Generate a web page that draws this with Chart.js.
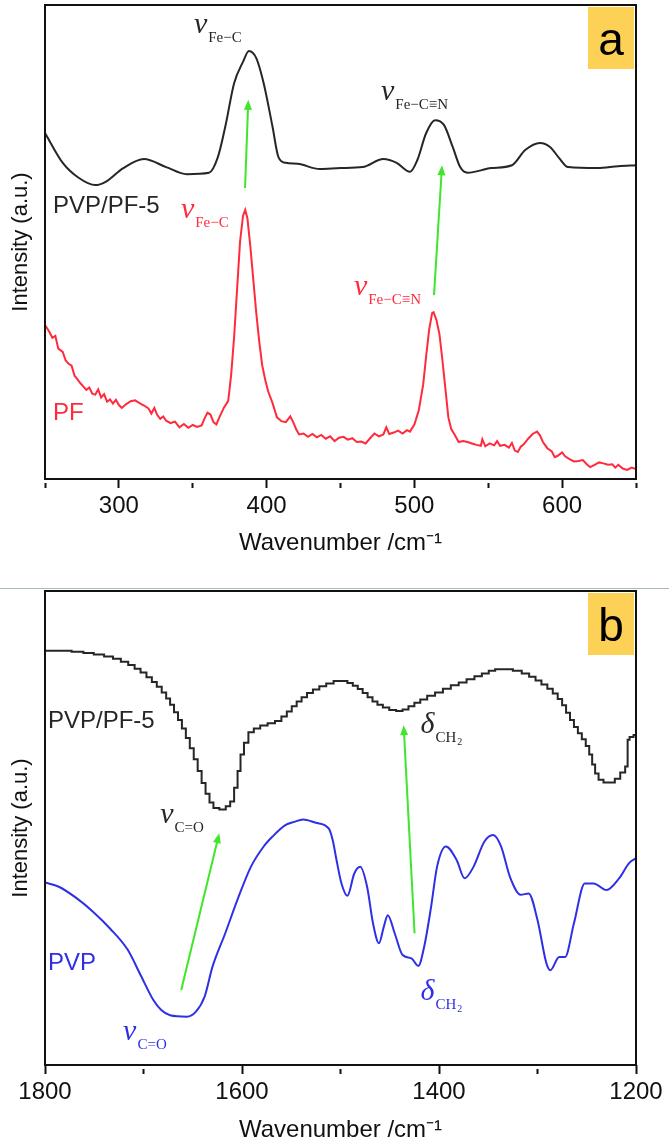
<!DOCTYPE html>
<html>
<head>
<meta charset="utf-8">
<script src="https://cdn.jsdelivr.net/npm/chart.js@4"></script>
<style>
  body { margin: 0; background: #fff; }
  #wrap { position: relative; width: 669px; height: 1142px; }
  canvas { position: absolute; left: 0; }
  #chartA { top: 0; }
  #chartB { top: 586px; }
  #sep { position: absolute; left: 0; top: 588px; width: 669px; height: 1px; background: #a8b8be; }
</style>
</head>
<body>
<div id="wrap">
  <canvas id="chartA" width="669" height="585"></canvas>
  <div id="sep"></div>
  <canvas id="chartB" width="669" height="556"></canvas>
</div>
<script>
// panel a: Raman
const pvpPfWaveA = [250, 262, 273, 284, 291, 303, 317, 332, 346, 361, 367, 372, 378, 384, 388, 393, 398, 404, 408, 413, 421, 436, 450, 465, 479, 488, 497, 502, 508, 514, 520, 526, 531, 536, 552, 566, 575, 585, 592, 598, 604, 624, 638, 650];
const pvpPfIntA = [73.0, 66.7, 63.5, 62.0, 62.7, 65.6, 67.5, 65.8, 64.3, 64.6, 67.9, 74.3, 83.5, 88.0, 90.3, 88.8, 83.5, 74.3, 67.9, 66.7, 66.5, 65.4, 65.6, 65.8, 67.5, 66.7, 64.8, 67.3, 73.0, 75.7, 74.7, 70.0, 65.8, 64.6, 65.6, 66.2, 69.4, 70.9, 70.0, 67.7, 65.8, 65.6, 66.0, 66.2];

const pfWave = [250, 253, 255, 257, 259, 262, 264, 266, 268, 270, 272, 274, 276, 278, 280, 282, 284, 286, 288, 290,
  292, 294, 296, 298, 300, 302, 305, 308, 311, 314, 317, 320, 322, 324, 326, 328, 330, 332, 335, 338,
  341, 344, 347, 350, 353, 356, 358, 360, 362, 364, 366, 368, 371, 374, 376, 378, 380, 382, 384, 385.5,
  387, 389, 391, 393, 395, 397, 399, 401, 404, 407, 410, 413, 416, 418, 420, 422, 425, 428, 431, 434,
  437, 440, 443, 446, 449, 452, 455, 458, 461, 464, 467, 470, 473, 476, 479, 481, 483, 486, 489, 492,
  495, 497, 500, 503, 506, 508, 510, 512, 513, 515, 517, 519, 521, 523, 525, 527, 530, 533, 536, 539,
  542, 545, 546, 548, 551, 554, 556, 558, 561, 564, 566, 568, 570, 572, 574, 577, 580, 583, 585, 587,
  590, 593, 595, 597, 600, 602, 605, 608, 611, 614, 617, 619, 622, 625, 628, 631, 634, 636, 638, 641,
  644, 647, 650];
const pfInt = [32.5, 31.0, 29.8, 30.2, 27.5, 26.8, 25.0, 24.3, 23.9, 21.8, 21.0, 20.2, 19.5, 18.8, 19.3, 18.0, 17.8, 18.9, 17.2, 17.9,
  16.3, 16.8, 15.9, 16.7, 15.6, 15.0, 15.8, 16.4, 16.6, 16.0, 15.5, 14.9, 13.8, 15.0, 13.5, 12.7, 13.2, 12.3, 11.8, 12.1,
  10.9, 11.6, 10.8, 11.4, 11.0, 11.3, 12.8, 14.0, 13.6, 12.0, 11.5, 13.0, 15.0, 16.5, 22.0, 30.0, 40.0, 50.0, 55.5, 56.8,
  55.0, 49.0, 42.0, 35.0, 29.0, 24.0, 21.0, 18.5, 16.0, 13.0, 12.2, 12.0, 13.2, 12.0, 10.5, 9.4, 9.6, 8.9, 9.5, 8.8,
  9.3, 8.5, 9.0, 8.0, 8.7, 8.9, 8.3, 8.6, 7.8, 7.9, 7.5, 8.6, 9.6, 9.0, 9.4, 10.9, 9.5, 9.8, 10.2, 9.6,
  10.3, 10.0, 11.5, 14.5, 20.0, 26.0, 31.5, 35.0, 35.2, 33.5, 30.5, 25.0, 19.0, 13.0, 10.5, 9.5, 7.8, 8.0, 7.8, 7.5,
  7.2, 7.0, 8.4, 6.9, 7.5, 7.1, 8.0, 7.0, 7.2, 6.6, 7.6, 6.0, 5.7, 6.8, 7.3, 8.5, 9.5, 10.0, 9.2, 7.8,
  6.5, 5.8, 4.6, 4.9, 5.6, 4.8, 4.2, 3.7, 3.8, 4.0, 3.0, 2.5, 3.0, 3.5, 3.3, 3.0, 3.1, 2.4, 3.0, 2.2,
  1.9, 2.4, 2.1];

// panel b: FTIR (the PVP/PF-5 trace is a staircase in the original)
const pvpPfWaveB = [1800, 1780, 1766, 1756, 1745, 1735, 1727, 1719, 1712, 1706, 1700, 1694, 1689, 1684, 1679, 1675, 1671, 1667, 1663, 1659,
  1655, 1651, 1647, 1643, 1639, 1635, 1631, 1627, 1619, 1614, 1610, 1606, 1603, 1600, 1596, 1591, 1585, 1578, 1570, 1563,
  1557, 1552, 1547, 1542, 1537, 1531, 1525, 1518, 1511, 1503, 1496, 1490, 1485, 1480, 1475, 1470, 1465, 1460, 1454, 1447,
  1440, 1434, 1428, 1422, 1416, 1408, 1400, 1392, 1384, 1376, 1368, 1360, 1353, 1346, 1340, 1330, 1320, 1312, 1305, 1299,
  1293, 1287, 1282, 1277, 1273, 1269, 1265, 1261, 1257, 1253, 1249, 1246, 1243, 1240, 1236, 1230, 1224, 1219, 1213, 1209,
  1208, 1205, 1200];
const pvpPfIntB = [87.4, 87.4, 87.2, 86.9, 86.6, 86.2, 85.7, 85.1, 84.4, 83.6, 82.8, 81.8, 80.8, 79.8, 78.6, 77.3, 76.0, 74.4, 72.8, 71.0,
  69.0, 66.8, 64.5, 62.0, 59.5, 57.2, 55.4, 54.2, 53.9, 54.6, 55.6, 58.5, 62.0, 65.5, 68.0, 70.2, 71.0, 71.6, 72.1, 72.6,
  73.5, 74.6, 75.7, 76.7, 77.6, 78.5, 79.2, 79.9, 80.5, 81.0, 81.0, 80.6, 80.0, 79.3, 78.5, 77.6, 76.7, 76.0, 75.4, 74.9,
  74.7, 75.0, 75.7, 76.4, 77.1, 77.9, 78.6, 79.4, 80.1, 80.7, 81.4, 82.0, 82.6, 83.2, 83.5, 83.5, 83.2, 82.6, 81.9, 81.1,
  80.3, 79.4, 78.4, 77.2, 75.9, 74.3, 72.8, 71.3, 70.0, 68.7, 67.3, 65.5, 63.4, 61.5, 60.2, 59.6, 59.6, 60.4, 61.7, 63.0,
  68.6, 69.2, 69.6];

const pvpWave = [1800, 1786, 1768, 1751, 1734, 1716, 1703, 1690, 1682, 1673, 1656, 1647, 1638, 1630, 1617, 1604, 1591, 1578, 1569, 1556, 1547, 1538, 1525, 1512, 1508, 1504, 1499, 1493, 1486, 1480, 1473, 1467, 1461, 1456, 1452, 1445, 1437, 1428, 1421, 1415, 1408, 1402, 1393, 1382, 1374, 1365, 1354, 1345, 1337, 1328, 1317, 1309, 1300, 1291, 1287, 1278, 1272, 1263, 1252, 1243, 1230, 1217, 1207, 1200];
const pvpInt = [38.5, 37.6, 35.2, 32.3, 28.8, 24.3, 19.0, 13.7, 11.6, 10.5, 10.2, 11.2, 14.4, 20.7, 27.8, 35.2, 41.8, 46.1, 48.2, 50.6, 51.3, 51.8, 51.1, 49.9, 47.5, 43.2, 38.3, 35.7, 40.4, 41.8, 37.6, 29.9, 25.7, 29.2, 31.6, 27.8, 23.2, 22.5, 20.9, 25.0, 33.4, 41.8, 46.1, 43.2, 39.4, 41.8, 47.1, 48.5, 46.1, 39.7, 35.9, 36.2, 30.6, 21.5, 20.0, 22.8, 22.8, 29.9, 38.3, 38.3, 36.9, 39.4, 42.6, 43.6];

const BLACK = '#262626';
const RED = '#ff2b3d';
const BLUE = '#2f2fe6';
const GREEN = '#3fe62a';

// annotations in data units
const labelsA = [
  { x: 255.4, y: 56.1, text: 'PVP/PF-5', color: BLACK },
  { x: 255.4, y: 12.4, text: 'PF', color: RED },
  { x: 350.8, y: 94.1, sym: 'ν', sub: 'Fe−C', color: BLACK },
  { x: 477.4, y: 80.0, sym: 'ν', sub: 'Fe−C≡N', color: BLACK },
  { x: 342.0, y: 55.1, sym: 'ν', sub: 'Fe−C', color: RED },
  { x: 459.1, y: 38.8, sym: 'ν', sub: 'Fe−C≡N', color: RED }
];
const arrowsA = [
  { x1: 385.4, y1: 61.4, x2: 387.6, y2: 80.0 },
  { x1: 513.3, y1: 38.8, x2: 518.7, y2: 66.2 }
];
const labelsB = [
  { x: 1797, y: 71.1, text: 'PVP/PF-5', color: BLACK },
  { x: 1797, y: 20.0, text: 'PVP', color: BLUE },
  { x: 1683.1, y: 51.1, sym: 'ν', sub: 'C=O', color: BLACK },
  { x: 1418.7, y: 70.0, sym: 'δ', sub: 'CH', sub2: '2', color: BLACK },
  { x: 1720.7, y: 5.3, sym: 'ν', sub: 'C=O', color: BLUE },
  { x: 1418.7, y: 13.7, sym: 'δ', sub: 'CH', sub2: '2', color: BLUE }
];
const arrowsB = [
  { x1: 1661.7, y1: 15.8, x2: 1623.1, y2: 48.9 },
  { x1: 1424.8, y1: 27.8, x2: 1435.9, y2: 71.7 }
];

const annotate = {
  id: 'annotate',
  afterDatasetsDraw(chart, args, opts) {
    const { ctx, chartArea: ca, scales: { x, y } } = chart;
    ctx.save();
    ctx.strokeStyle = '#111';
    ctx.lineWidth = 2;
    ctx.strokeRect(ca.left, ca.top, ca.right - ca.left, ca.bottom - ca.top);

    // panel tag
    ctx.fillStyle = '#fdd155';
    ctx.fillRect(ca.right - 48, ca.top + 2, 46, 62);
    ctx.fillStyle = '#000';
    ctx.font = '46px "Liberation Sans"';
    ctx.textAlign = 'center';
    ctx.textBaseline = 'alphabetic';
    ctx.fillText(opts.tag, ca.right - 25, ca.top + 50);
    ctx.textAlign = 'left';

    opts.arrows.forEach(a => {
      const x1 = x.getPixelForValue(a.x1), y1 = y.getPixelForValue(a.y1);
      const x2 = x.getPixelForValue(a.x2), y2 = y.getPixelForValue(a.y2);
      const ang = Math.atan2(y2 - y1, x2 - x1);
      ctx.strokeStyle = GREEN;
      ctx.fillStyle = GREEN;
      ctx.lineWidth = 2;
      ctx.beginPath();
      ctx.moveTo(x1, y1);
      ctx.lineTo(x2 - 6 * Math.cos(ang), y2 - 6 * Math.sin(ang));
      ctx.stroke();
      ctx.beginPath();
      ctx.moveTo(x2, y2);
      ctx.lineTo(x2 - 10 * Math.cos(ang) + 4 * Math.sin(ang), y2 - 10 * Math.sin(ang) - 4 * Math.cos(ang));
      ctx.lineTo(x2 - 10 * Math.cos(ang) - 4 * Math.sin(ang), y2 - 10 * Math.sin(ang) + 4 * Math.cos(ang));
      ctx.closePath();
      ctx.fill();
    });

    opts.labels.forEach(l => {
      const px = x.getPixelForValue(l.x), py = y.getPixelForValue(l.y);
      ctx.fillStyle = l.color;
      if (l.text) {
        ctx.font = '24px "Liberation Sans"';
        ctx.fillText(l.text, px, py);
        return;
      }
      ctx.font = 'italic 30px "Liberation Serif"';
      ctx.fillText(l.sym, px, py);
      const w = ctx.measureText(l.sym).width;
      ctx.font = '15px "Liberation Serif"';
      ctx.fillText(l.sub, px + w + 1, py + 9);
      if (l.sub2) {
        const w2 = ctx.measureText(l.sub).width;
        ctx.font = '10px "Liberation Serif"';
        ctx.fillText(l.sub2, px + w + 1 + w2 + 1, py + 12);
      }
    });
    ctx.restore();
  }
};

function pts(xs, ys) {
  return xs.map((v, i) => ({ x: v, y: ys[i] }));
}

function makeOptions(xMin, xMax, reverse, labelEvery, axisHeight, tag, labels, arrows) {
  return {
    responsive: false,
    animation: false,
    devicePixelRatio: 1,
    layout: { padding: { top: 5, right: 33, left: 0, bottom: 0 } },
    plugins: {
      legend: { display: false },
      tooltip: { enabled: false },
      annotate: { tag: tag, labels: labels, arrows: arrows }
    },
    elements: { point: { radius: 0 } },
    scales: {
      x: {
        type: 'linear',
        min: xMin,
        max: xMax,
        reverse: reverse,
        afterFit: s => { s.height = axisHeight; },
        border: { display: false },
        grid: {
          drawOnChartArea: false,
          drawTicks: true,
          tickLength: 9,
          tickWidth: 2,
          tickColor: '#111',
          tickBorderDash: c => (c.tick && c.tick.value % labelEvery === 0) ? [] : [0, 4, 20, 0]
        },
        ticks: {
          stepSize: labelEvery / 2,
          autoSkip: false,
          maxRotation: 0,
          padding: 4,
          color: '#111',
          font: { family: 'Liberation Sans', size: 24 },
          callback: v => v % labelEvery === 0 ? v : ''
        },
        title: {
          display: true,
          text: 'Wavenumber /cm⁻¹',
          color: '#111',
          font: { family: 'Liberation Sans', size: 24, lineHeight: 1 },
          padding: { top: 0, bottom: axisHeight > 90 ? 30 : 0 }
        }
      },
      y: {
        min: 0,
        max: 100,
        afterFit: s => { s.width = 45; },
        border: { display: false },
        grid: { display: false },
        ticks: { display: false },
        title: {
          display: true,
          text: 'Intensity (a.u.)',
          color: '#111',
          font: { family: 'Liberation Sans', size: 22, lineHeight: 1.2 },
          padding: { top: 8, bottom: 0 }
        }
      }
    }
  };
}

new Chart(document.getElementById('chartA'), {
  type: 'line',
  data: {
    datasets: [
      { data: pts(pvpPfWaveA, pvpPfIntA), borderColor: BLACK, borderWidth: 2, cubicInterpolationMode: 'monotone' },
      { data: pts(pfWave, pfInt), borderColor: RED, borderWidth: 2, tension: 0 }
    ]
  },
  options: makeOptions(250, 650, false, 100, 106, 'a', labelsA, arrowsA),
  plugins: [annotate]
});

new Chart(document.getElementById('chartB'), {
  type: 'line',
  data: {
    datasets: [
      { data: pts(pvpPfWaveB, pvpPfIntB), borderColor: BLACK, borderWidth: 2, stepped: 'middle' },
      { data: pts(pvpWave, pvpInt), borderColor: BLUE, borderWidth: 2, cubicInterpolationMode: 'monotone' }
    ]
  },
  options: makeOptions(1200, 1800, true, 200, 77, 'b', labelsB, arrowsB),
  plugins: [annotate]
});
</script>
</body>
</html>
